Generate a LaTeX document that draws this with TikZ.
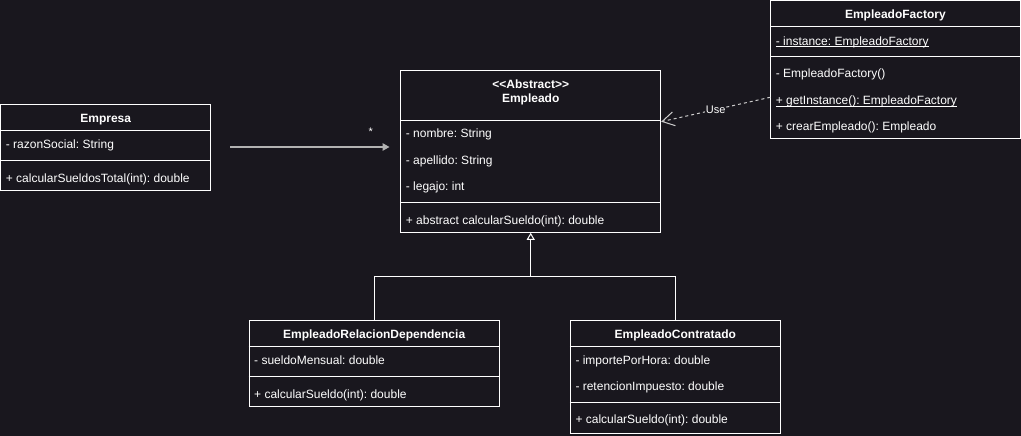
\documentclass[tikz,border=0pt]{standalone}
\usepackage{fontspec}
\setmainfont{Liberation Sans}
\usetikzlibrary{arrows.meta}
\definecolor{bg}{RGB}{25,23,30}
\definecolor{assoc}{RGB}{178,178,178}
\definecolor{dep}{RGB}{205,205,205}
\tikzset{
  cls/.style={draw=white, line width=1pt, rectangle, inner sep=0pt},
  div/.style={draw=white, line width=1pt},
  txt/.style={text=white, inner sep=0pt, anchor=base west, font=\fontsize{12pt}{14pt}\selectfont\frenchspacing},
  ttl/.style={text=white, inner sep=0pt, anchor=base, font=\fontsize{12pt}{14pt}\selectfont\bfseries},
  conn/.style={draw=white, line width=1pt},
}
\newcommand\ulx[1]{\underline{\smash{#1}}}
\begin{document}
\begin{tikzpicture}[x=1pt,y=-1pt]
\useasboundingbox (0,0) rectangle (1021,436);
\fill[bg] (0,0) rectangle (1021,436);

% Empresa
\node[cls, minimum width=210pt, minimum height=85.7pt] (empresa) at (105.7,147.15) {};
\draw[div] (empresa.west |- 0,130.3) -- (empresa.east |- 0,130.3);
\draw[div] (empresa.west |- 0,160.3) -- (empresa.east |- 0,160.3);
\node[ttl] (empresaT) at (105.7,122.8) {Empresa};
\node[txt] (empresaA1) at (5.7,148.2) {- razonSocial: String};
\node[txt] (empresaM1) at (5.7,182.5) {+ calcularSueldosTotal(int): double};

% Empleado
\node[cls, minimum width=260pt, minimum height=162pt] (emp) at (530.7,151.3) {};
\draw[div] (emp.west |- 0,120.3) -- (emp.east |- 0,120.3);
\draw[div] (emp.west |- 0,202.3) -- (emp.east |- 0,202.3);
\node[ttl] (empS) at (530.7,88.5) {<{}<Abstract>{}>};
\node[ttl] (empT) at (530.7,102.2) {Empleado};
\node[txt] (empA1) at (405.7,137.5) {- nombre: String};
\node[txt] (empA2) at (405.7,164.5) {- apellido: String};
\node[txt] (empA3) at (405.7,190.5) {- legajo: int};
\node[txt] (empM1) at (405.7,224.5) {+ abstract calcularSueldo(int): double};

% EmpleadoFactory
\node[cls, minimum width=249.3pt, minimum height=137.3pt] (fac) at (895.35,69.65) {};
\draw[div] (fac.west |- 0,26.3) -- (fac.east |- 0,26.3);
\draw[div] (fac.west |- 0,56.3) -- (fac.east |- 0,56.3);
\node[ttl] (facT) at (895.35,18.5) {EmpleadoFactory};
\node[txt] (facA1) at (775.7,45.2) {\ulx{- instance: EmpleadoFactory}};
\node[txt] (facM1) at (775.7,77.8) {- EmpleadoFactory()};
\node[txt] (facM2) at (775.7,104.5) {\ulx{+ getInstance(): EmpleadoFactory}};
\node[txt] (facM3) at (775.7,130.2) {+ crearEmpleado(): Empleado};

% EmpleadoRelacionDependencia
\node[cls, minimum width=250.3pt, minimum height=86pt] (erd) at (374.15,363) {};
\draw[div] (erd.west |- 0,346.7) -- (erd.east |- 0,346.7);
\draw[div] (erd.west |- 0,376) -- (erd.east |- 0,376);
\node[ttl] (erdT) at (374.15,338.5) {EmpleadoRelacionDependencia};
\node[txt] (erdA1) at (254,364.5) {- sueldoMensual: double};
\node[txt] (erdM1) at (254,398.5) {+ calcularSueldo(int): double};

% EmpleadoContratado
\node[cls, minimum width=210pt, minimum height=112.7pt] (ec) at (675.3,376.65) {};
\draw[div] (ec.west |- 0,346) -- (ec.east |- 0,346);
\draw[div] (ec.west |- 0,402.3) -- (ec.east |- 0,402.3);
\node[ttl] (ecT) at (675.3,338.5) {EmpleadoContratado};
\node[txt] (ecA1) at (575.3,364.5) {- importePorHora: double};
\node[txt] (ecA2) at (575.3,390.5) {- retencionImpuesto: double};
\node[txt] (ecM1) at (575.3,423.8) {+ calcularSueldo(int): double};

% Inheritance
\coordinate (jn) at (530.7,276);
\draw[conn, -{Triangle[open, length=7pt, width=8pt, fill=bg]}] (erd.north) |- (jn) -- (emp.south);
\draw[conn] (ec.north) |- (jn);

% Association Empresa -> Empleado
\coordinate (asA) at (230,147);
\coordinate (asB) at (389.5,147);
\draw[draw=assoc, line width=1.3pt, -{Triangle[length=7pt, width=7.5pt]}] (asA) -- (asB);
\node[text=white, inner sep=0pt, anchor=base, font=\fontsize{11pt}{12pt}\selectfont] (star) at (370.7,135.5) {*};

% Dependency Factory -> Empleado
\coordinate (useA) at ([yshift=-27.65pt]fac.west);
\coordinate (useB) at ([yshift=29.6pt]emp.east);
\draw[draw=dep, line width=1pt, dash pattern=on 3pt off 3pt, -{Straight Barb[length=12pt, width=14pt]}] (useA) -- (useB)
  node[pos=0.5, fill=bg, inner sep=1pt, text=white, font=\fontsize{11pt}{13pt}\selectfont] (useL) {Use};
\end{tikzpicture}
\end{document}
